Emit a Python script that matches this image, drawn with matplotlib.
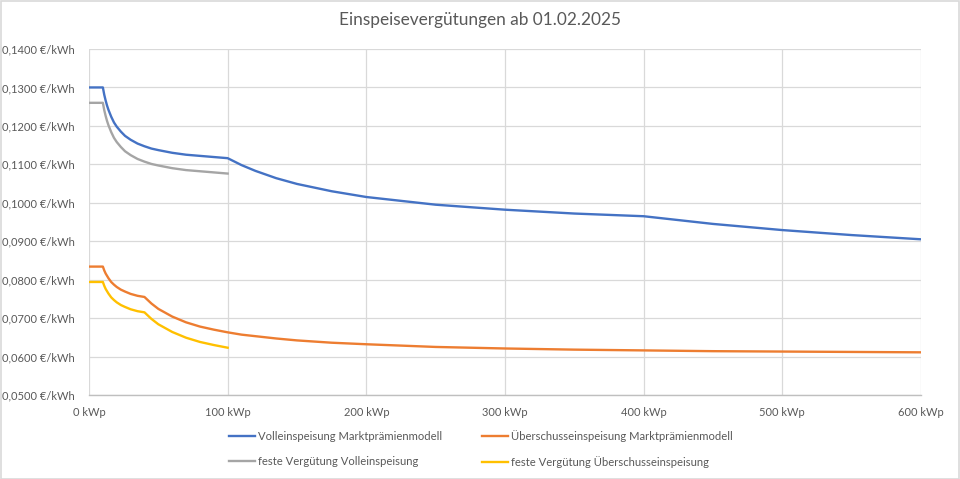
import matplotlib.pyplot as plt
from matplotlib.ticker import FuncFormatter

# kWp values and tariffs (€/kWh)
kwp_full = [0, 10, 11, 12, 13, 14, 16, 18, 20, 23, 26, 30, 35, 40, 45, 50, 60, 70, 80, 90, 100,
            110, 120, 135, 150, 175, 200, 250, 300, 350, 400, 450, 500, 550, 600]
voll_mp = [0.1300, 0.1300, 0.1281, 0.1266, 0.1253, 0.1242, 0.1224, 0.1209, 0.1198, 0.1185,
           0.1174, 0.1164, 0.1154, 0.1147, 0.1141, 0.1137, 0.1130, 0.1125, 0.1122, 0.1119, 0.1116,
           0.1098, 0.1083, 0.1064, 0.1049, 0.1030, 0.1015, 0.0995, 0.0982, 0.0972, 0.0965,
           0.0945, 0.0929, 0.0916, 0.0905]
ueber_mp = [0.0834, 0.0834, 0.0824, 0.0816, 0.0810, 0.0804, 0.0794, 0.0787, 0.0781, 0.0774,
            0.0769, 0.0763, 0.0758, 0.0755, 0.0738, 0.0724, 0.0704, 0.0689, 0.0678, 0.0670, 0.0663,
            0.0657, 0.0653, 0.0647, 0.0642, 0.0636, 0.0632, 0.0625, 0.0621, 0.0618, 0.0616,
            0.0614, 0.0613, 0.0612, 0.0611]

kwp_small = [0, 10, 11, 12, 13, 14, 16, 18, 20, 23, 26, 30, 35, 40, 45, 50, 60, 70, 80, 90, 100]
voll_fest = [0.1260, 0.1260, 0.1241, 0.1226, 0.1213, 0.1202, 0.1184, 0.1169, 0.1158, 0.1145,
             0.1134, 0.1124, 0.1114, 0.1107, 0.1101, 0.1097, 0.1090, 0.1085, 0.1082, 0.1079, 0.1076]
ueber_fest = [0.0794, 0.0794, 0.0784, 0.0776, 0.0770, 0.0764, 0.0754, 0.0747, 0.0741, 0.0734,
              0.0729, 0.0723, 0.0718, 0.0715, 0.0698, 0.0684, 0.0664, 0.0649, 0.0638, 0.0630, 0.0623]

labels = ["Volleinspeisung Marktprämienmodell", "Überschusseinspeisung Marktprämienmodell",
          "feste Vergütung Volleinspeisung", "feste Vergütung Überschusseinspeisung"]
colors = ["#4472C4", "#ED7D31", "#A5A5A5", "#FFC000"]

plt.rcParams['font.family'] = ['Lato', 'DejaVu Sans']
txt = "#595959"

fig = plt.figure(figsize=(9.6, 4.79), dpi=100)
ax = fig.add_axes([89/960, 1 - 395/479, (921 - 89)/960, (395 - 49)/479])

l1, = ax.plot(kwp_full, voll_mp, color=colors[0], lw=1.7, label=labels[0])
l2, = ax.plot(kwp_full, ueber_mp, color=colors[1], lw=1.7, label=labels[1])
l3, = ax.plot(kwp_small, voll_fest, color=colors[2], lw=1.7, label=labels[2])
l4, = ax.plot(kwp_small, ueber_fest, color=colors[3], lw=1.7, label=labels[3])

ax.set_xlim(0, 600)
ax.set_ylim(0.05, 0.14)
ax.set_xticks(range(0, 601, 100))
ax.set_yticks([0.05 + 0.01 * i for i in range(10)])
ax.xaxis.set_major_formatter(FuncFormatter(lambda v, p: f"{int(v)} kWp"))
ax.yaxis.set_major_formatter(FuncFormatter(lambda v, p: f"{v:.4f}".replace(".", ",") + " €/kWh"))
ax.tick_params(length=0, labelsize=8.0, colors=txt)
ax.tick_params(axis='x', pad=9)
ax.tick_params(axis='y', pad=10)
ax.grid(True, color="#D9D9D9", lw=0.9)
ax.set_axisbelow(True)
for s in ["top", "right", "left"]:
    ax.spines[s].set_visible(False)
ax.spines["bottom"].set_color("#BFBFBF")
ax.spines["bottom"].set_linewidth(1.0)

fig.text(0.5, 1 - 20/479, "Einspeisevergütungen ab 01.02.2025", ha="center", va="center",
         fontsize=12.4, color=txt)

fig.legend(handles=[l1, l3, l2, l4], loc="center", bbox_to_anchor=(481/960, 1 - 449/479),
           ncol=2, frameon=False, fontsize=8.1, labelcolor=txt, handlelength=2.3,
           handletextpad=0.27, columnspacing=3.55, labelspacing=1.2)

fig.patches.append(plt.Rectangle((0.5/960, 0.5/479), 1 - 1.5/960, 1 - 1.5/479,
                                 transform=fig.transFigure, fill=False,
                                 edgecolor="#D9D9D9", lw=1.2))

fig.savefig("out.png", dpi=100)
